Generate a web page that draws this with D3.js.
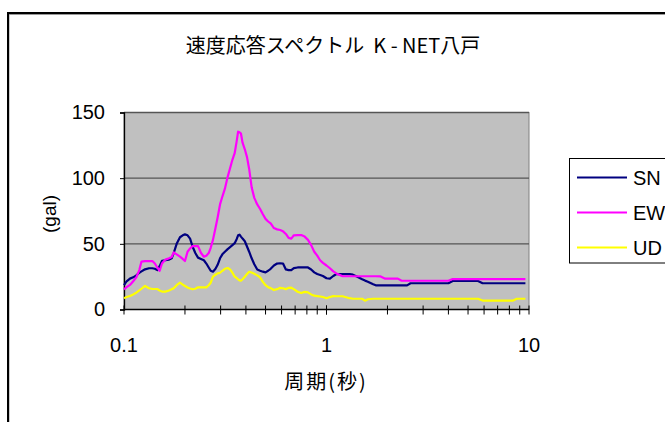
<!DOCTYPE html>
<html><head><meta charset="utf-8">
<script src="https://cdn.jsdelivr.net/npm/d3@7/dist/d3.min.js"></script>
<style>
html,body{margin:0;padding:0;background:#fff;overflow:hidden;}
svg{display:block;}
text{white-space:pre;}
</style></head>
<body>
<script>
const title = "速度応答スペクトル  K - NET八戸";
const xTitle = "周期(秒)";
const yTitle = "(gal)";
const seriesNames = ["SN", "EW", "UD"];
const seriesColors = ["#000080", "#FF00FF", "#FFFF00"];
const yTicks = [0, 50, 100, 150];
const xTicks = [0.1, 1, 10];

const periods = [0.100,0.103,0.107,0.111,0.115,0.119,0.122,0.127,0.133,0.138,0.142,0.146,0.150,0.154,0.160,0.167,0.172,0.176,0.182,0.189,0.195,0.200,0.206,0.212,0.218,0.225,0.232,0.240,0.248,0.255,0.262,0.268,0.275,0.283,0.290,0.298,0.306,0.315,0.325,0.334,0.343,0.352,0.360,0.366,0.372,0.378,0.385,0.395,0.405,0.415,0.427,0.440,0.455,0.470,0.485,0.500,0.515,0.530,0.550,0.570,0.590,0.610,0.630,0.650,0.670,0.690,0.720,0.750,0.780,0.810,0.840,0.870,0.900,0.930,0.960,1.00,1.04,1.08,1.12,1.20,1.30,1.35,1.42,1.50,1.55,1.60,1.70,1.75,1.85,1.95,2.10,2.25,2.35,2.50,2.60,3.0,3.5,4.0,4.2,5.0,5.6,5.9,6.5,7.5,8.3,8.7,9.6];

const snValues = [18.5,21.5,23.5,24.5,26,28,29,30.6,31.4,31.4,31,30,33,37,37.5,38,39,43,50,55,56.5,57.2,56.5,54,48,43,39.5,38.5,37.5,35,32,29.5,28.8,31,34,39,42,44,46,47.5,49,50.5,53.5,56.5,57,55.5,54,52,48,44,39,34.5,30.5,29.5,28.8,28.3,29.5,31,33.5,35,35.2,35,30.5,30,30,31.5,32,32,32,32,30.5,28.3,27,26.3,25.5,23.8,23.5,25.5,27,27,27,26.5,25,23,22,21.2,19.2,18.4,18.4,18.4,18.4,18.4,18.4,18.4,20,20,20,20,21.7,21.7,21.7,20,20,20,20,20,20];

const ewValues = [15.4,17,18.7,21.5,24.5,30,36.5,36.9,36.9,36.9,35,32,29.5,35,38,39,40,43.5,42,40.2,38.5,36.9,44,46.5,48.3,48.3,48.3,43,40.2,41,43,47,53,62,70,80,86,92,101,107.5,114,119,128,135.4,135,134,127,122,116,107,93,85,80,76.5,72.5,69,67,65.5,62,61,60.5,59.5,57.5,54.5,54,56.5,56.7,56.7,55.5,53,49,44,41,37.5,35.5,33.5,31.4,29,27.5,25.3,25.3,25.3,25.3,25.3,25.3,25.3,25.3,25.3,25.2,23.5,23.5,23.5,21.9,21.9,21.9,21.9,21.9,21.9,23.2,23.2,23.2,23.2,23.2,23.2,23.2,23.2,23.2];

const udValues = [8.5,9.5,10.3,11.5,12.8,14.5,15.8,17.9,16.2,15.6,15.6,15.6,14.5,13.6,13.6,14.5,15.5,16.1,18.5,20.4,19,17.9,16.8,16,15.4,15.8,16.9,16.9,16.9,16.9,18.5,20.4,25,26.5,27.5,28,29.5,31,31.6,30.5,28,25,24,23,22.2,21.9,23,25,27,28.8,28.2,27.2,26,24.5,21,18.5,17,16.3,14.8,15.5,16.5,16.2,15.5,16.5,16.6,15.5,13.5,12.5,13.4,13,11.5,10.5,10.2,9.9,9.5,8.5,9.5,10.2,10.1,10.1,8.6,8.2,8.2,8.2,6.7,7.8,8.2,8.2,8.2,8.2,8.2,8.2,8.2,8.2,8.2,8.2,8.2,8.2,8.2,8.2,8.2,6.8,6.7,6.7,6.7,8.2,8.2];

const allValues = [snValues, ewValues, udValues];
const LAT = "'Liberation Sans', Arial, sans-serif";
const CJK = "'Noto Sans CJK JP', sans-serif";

const W = 665, H = 422;
const svg = d3.select("body").append("svg").attr("width", W).attr("height", H);

// chart border
svg.append("rect").attr("x", 9).attr("y", 14.5).attr("width", 700).attr("height", 500)
  .attr("fill", "none").attr("stroke", "#999").attr("stroke-width", 1);
svg.append("rect").attr("x", 8).attr("y", 13).attr("width", 700).attr("height", 500)
  .attr("fill", "none").attr("stroke", "#000").attr("stroke-width", 2);

const plot = {left: 124, right: 529, top: 112.5, bottom: 309.5};
const x = d3.scaleLog().domain([0.1, 10]).range([plot.left, plot.right]);
const y = d3.scaleLinear().domain([0, 150]).range([plot.bottom, plot.top]);

// plot background
svg.append("rect").attr("x", plot.left).attr("y", plot.top)
  .attr("width", plot.right - plot.left).attr("height", plot.bottom - plot.top)
  .attr("fill", "#C0C0C0").attr("stroke", "#808080").attr("stroke-width", 1);

// gridlines
svg.append("g").selectAll("line").data(yTicks.filter(d => d > 0)).join("line")
  .attr("x1", plot.left).attr("x2", plot.right)
  .attr("y1", d => y(d)).attr("y2", d => y(d))
  .attr("stroke", "#555").attr("stroke-width", 1.3);

// y axis
const yAxis = d3.axisLeft(y).tickValues(yTicks).tickSize(4).tickPadding(15).tickFormat(d3.format("d"));
const gy = svg.append("g").attr("transform", `translate(${plot.left},0)`).call(yAxis);
gy.select(".domain").attr("stroke", "#000").attr("stroke-width", 1.3);
gy.selectAll(".tick line").attr("stroke", "#000");
gy.selectAll("text").attr("font-family", LAT).attr("font-size", 20).attr("fill", "#000");

// x axis: minor ticks crossing the axis
const minorTicks = [];
for (let dec of [0.1, 1]) for (let k = 1; k <= 10; k++) minorTicks.push(dec * k);
const gx = svg.append("g");
gx.append("line").attr("x1", plot.left).attr("x2", plot.right)
  .attr("y1", plot.bottom).attr("y2", plot.bottom).attr("stroke", "#000").attr("stroke-width", 1.3);
gx.selectAll("line.tk").data(minorTicks).join("line").attr("class", "tk")
  .attr("x1", d => x(d)).attr("x2", d => x(d))
  .attr("y1", plot.bottom - 4).attr("y2", plot.bottom + 5)
  .attr("stroke", "#000").attr("stroke-width", 1);
gx.selectAll("text").data(xTicks).join("text")
  .attr("x", d => x(d)).attr("y", 352)
  .attr("text-anchor", "middle")
  .attr("font-family", LAT).attr("font-size", 20)
  .text(d => d3.format("~g")(d));

// lines
const line = d3.line().x((d, i) => x(periods[i])).y(d => y(d));
svg.append("g").selectAll("path").data(allValues).join("path")
  .attr("d", d => line(d))
  .attr("fill", "none")
  .attr("stroke", (d, i) => seriesColors[i])
  .attr("stroke-width", 2.2)
  .attr("stroke-linejoin", "round");

// title
svg.append("text").attr("x", 333).attr("y", 53).attr("text-anchor", "middle")
  .attr("font-family", CJK).attr("font-size", 20)
  .text(title);

// axis titles
svg.append("text").attr("x", 326).attr("y", 389).attr("text-anchor", "middle")
  .attr("font-family", CJK).attr("font-size", 20).attr("letter-spacing", 2)
  .text(xTitle);
svg.append("text").attr("transform", "translate(56,214) rotate(-90)").attr("text-anchor", "middle")
  .attr("font-family", LAT).attr("font-size", 19)
  .text(yTitle);

// legend
const lg = svg.append("g");
lg.append("rect").attr("x", 569.5).attr("y", 158.5).attr("width", 120).attr("height", 104.5)
  .attr("fill", "#fff").attr("stroke", "#000").attr("stroke-width", 1);
const items = lg.selectAll("g.it").data(seriesNames).join("g").attr("class", "it")
  .attr("transform", (d, i) => `translate(0,${177.5 + i * 35})`);
items.append("line").attr("x1", 577).attr("x2", 627).attr("y1", 0).attr("y2", 0)
  .attr("stroke", (d, i) => seriesColors[i]).attr("stroke-width", 2.2);
items.append("text").attr("x", 633).attr("y", 7).attr("font-family", LAT)
  .attr("font-size", 20).text(d => d);
</script>
</body></html>
